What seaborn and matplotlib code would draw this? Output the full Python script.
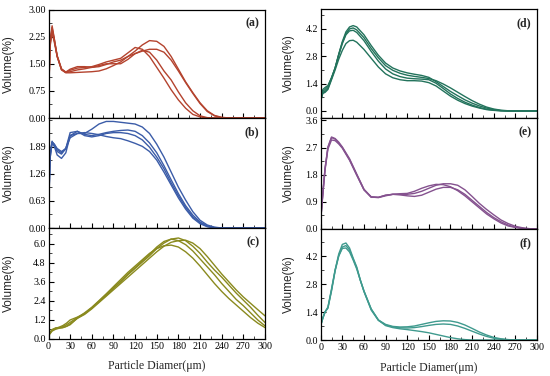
import numpy as np
import pandas as pd
import matplotlib
matplotlib.use("Agg")
import matplotlib.pyplot as plt
import seaborn as sns
from matplotlib.ticker import MultipleLocator, FixedLocator, FormatStrFormatter

# ---------------- data ----------------
xa = [0, 2, 5, 8, 12, 18, 24, 30, 40, 50, 60, 70, 80, 90, 100, 110, 120, 130, 140, 150,
      160, 170, 180, 190, 200, 210, 220, 230, 240, 250, 260, 270, 280, 290, 300]
a1 = [0.3, 2.1, 2.55, 2.2, 1.7, 1.33, 1.25, 1.25, 1.26, 1.27, 1.28, 1.3, 1.36, 1.45, 1.55, 1.7, 1.85, 2.02, 2.14, 2.12,
      1.98, 1.7, 1.35, 1.0, 0.7, 0.42, 0.2, 0.07, 0.02, 0.0, 0.0, 0.0, 0.0, 0.0, 0.0]
a2 = [0.3, 2.0, 2.45, 2.15, 1.72, 1.36, 1.27, 1.35, 1.42, 1.42, 1.4, 1.42, 1.48, 1.55, 1.6, 1.7, 1.78, 1.85, 1.9, 1.9,
      1.82, 1.6, 1.3, 0.98, 0.68, 0.4, 0.18, 0.06, 0.01, 0.0, 0.0, 0.0, 0.0, 0.0, 0.0]
a3 = [0.3, 2.05, 2.5, 2.18, 1.72, 1.35, 1.26, 1.32, 1.38, 1.4, 1.42, 1.48, 1.55, 1.6, 1.65, 1.8, 1.95, 1.9, 1.7, 1.4,
      1.1, 0.78, 0.5, 0.27, 0.1, 0.03, 0.0, 0.0, 0.0, 0.0, 0.0, 0.0, 0.0, 0.0, 0.0]
a4 = [0.3, 1.95, 2.35, 2.1, 1.7, 1.34, 1.26, 1.28, 1.33, 1.36, 1.4, 1.45, 1.5, 1.5, 1.5, 1.62, 1.78, 1.87, 1.82, 1.6,
      1.3, 1.05, 0.72, 0.42, 0.2, 0.06, 0.01, 0.0, 0.0, 0.0, 0.0, 0.0, 0.0, 0.0, 0.0]

xb = [0, 2, 5, 8, 12, 18, 24, 30, 40, 50, 60, 70, 80, 90, 100, 110, 120, 130, 140, 150,
      160, 170, 180, 190, 200, 210, 220, 230, 240, 250, 260, 270, 280, 290, 300]
b1 = [0.2, 1.6, 2.0, 1.95, 1.85, 1.78, 1.85, 2.15, 2.2, 2.2, 2.3, 2.42, 2.48, 2.48, 2.46, 2.44, 2.42, 2.35, 2.2, 1.95,
      1.65, 1.3, 0.95, 0.65, 0.38, 0.18, 0.07, 0.02, 0.0, 0.0, 0.0, 0.0, 0.0, 0.0, 0.0]
b2 = [0.2, 1.7, 2.02, 1.9, 1.7, 1.62, 1.75, 2.15, 2.25, 2.18, 2.15, 2.18, 2.22, 2.25, 2.27, 2.28, 2.25, 2.15, 1.98, 1.75,
      1.45, 1.12, 0.8, 0.52, 0.3, 0.14, 0.05, 0.01, 0.0, 0.0, 0.0, 0.0, 0.0, 0.0, 0.0]
b3 = [0.2, 1.6, 1.98, 1.92, 1.78, 1.72, 1.85, 2.22, 2.25, 2.15, 2.12, 2.15, 2.2, 2.22, 2.22, 2.2, 2.15, 2.05, 1.88, 1.65,
      1.38, 1.05, 0.75, 0.48, 0.26, 0.12, 0.04, 0.0, 0.0, 0.0, 0.0, 0.0, 0.0, 0.0, 0.0]
b4 = [0.2, 1.7, 2.0, 1.95, 1.82, 1.75, 1.85, 2.1, 2.2, 2.22, 2.2, 2.17, 2.13, 2.1, 2.08, 2.03, 1.97, 1.9, 1.78, 1.58,
      1.3, 1.0, 0.7, 0.44, 0.23, 0.1, 0.03, 0.0, 0.0, 0.0, 0.0, 0.0, 0.0, 0.0, 0.0]

xc = [0, 5, 10, 15, 20, 25, 30, 40, 50, 60, 70, 80, 90, 100, 110, 120, 130, 140, 150,
      160, 170, 180, 190, 200, 210, 220, 230, 240, 250, 260, 270, 280, 290, 300]
c1 = [0.25, 0.55, 0.65, 0.7, 0.72, 0.8, 0.95, 1.3, 1.55, 1.9, 2.3, 2.7, 3.1, 3.5, 3.9, 4.3, 4.7, 5.1, 5.5,
      5.85, 6.1, 6.2, 6.23, 6.05, 5.7, 5.2, 4.65, 4.1, 3.6, 3.1, 2.65, 2.25, 1.85, 1.46]
c2 = [0.3, 0.55, 0.68, 0.75, 0.85, 1.0, 1.2, 1.38, 1.6, 1.95, 2.35, 2.75, 3.2, 3.6, 4.05, 4.45, 4.85, 5.25, 5.7,
      6.05, 6.3, 6.37, 6.2, 5.85, 5.4, 4.85, 4.35, 3.9, 3.4, 2.9, 2.45, 2.0, 1.5, 1.04]
c3 = [0.2, 0.5, 0.62, 0.68, 0.72, 0.8, 0.9, 1.32, 1.6, 1.97, 2.38, 2.8, 3.22, 3.65, 4.1, 4.5, 4.92, 5.35, 5.8,
      6.15, 6.3, 6.2, 5.95, 5.55, 5.05, 4.55, 4.05, 3.5, 3.0, 2.5, 2.1, 1.65, 1.2, 0.83]
c4 = [0.3, 0.6, 0.7, 0.72, 0.78, 0.9, 1.05, 1.35, 1.65, 2.0, 2.42, 2.85, 3.3, 3.75, 4.2, 4.6, 5.0, 5.4, 5.7,
      5.88, 5.92, 5.8, 5.5, 5.1, 4.6, 4.05, 3.5, 3.0, 2.55, 2.15, 1.75, 1.35, 1.0, 0.72]

xd = [0, 3, 6, 10, 15, 20, 25, 30, 35, 40, 45, 50, 60, 70, 80, 90, 100, 110, 120, 130, 140, 150,
      160, 170, 180, 190, 200, 210, 220, 230, 240, 250, 260, 270, 280, 290, 300]
d1 = [0.6, 1.1, 1.2, 1.3, 1.7, 2.2, 2.9, 3.55, 4.05, 4.3, 4.37, 4.3, 3.9, 3.35, 2.85, 2.45, 2.2, 2.05, 1.95, 1.88, 1.82, 1.72,
      1.5, 1.25, 1.0, 0.78, 0.57, 0.4, 0.26, 0.15, 0.07, 0.02, 0.0, 0.0, 0.0, 0.0, 0.0]
d2 = [0.5, 1.0, 1.1, 1.25, 1.7, 2.2, 2.9, 3.5, 3.95, 4.2, 4.25, 4.15, 3.75, 3.2, 2.72, 2.32, 2.08, 1.93, 1.83, 1.77, 1.72, 1.66,
      1.55, 1.38, 1.18, 0.96, 0.74, 0.53, 0.35, 0.2, 0.1, 0.04, 0.01, 0.0, 0.0, 0.0, 0.0]
d3 = [0.5, 0.95, 1.0, 1.15, 1.65, 2.2, 2.85, 3.45, 3.9, 4.1, 4.13, 4.02, 3.6, 3.05, 2.55, 2.15, 1.9, 1.76, 1.68, 1.65, 1.63, 1.6,
      1.42, 1.15, 0.87, 0.64, 0.45, 0.3, 0.18, 0.09, 0.04, 0.01, 0.0, 0.0, 0.0, 0.0, 0.0]
d4 = [0.6, 0.9, 0.95, 1.1, 1.6, 2.1, 2.65, 3.1, 3.45, 3.6, 3.62, 3.52, 3.15, 2.7, 2.25, 1.9, 1.7, 1.6, 1.55, 1.55, 1.53, 1.45,
      1.28, 1.02, 0.76, 0.55, 0.38, 0.25, 0.15, 0.07, 0.03, 0.01, 0.0, 0.0, 0.0, 0.0, 0.0]

xe = [0, 3, 6, 10, 15, 20, 25, 30, 40, 50, 60, 70, 80, 90, 100, 110, 120, 130, 140, 150,
      160, 170, 180, 190, 200, 210, 220, 230, 240, 250, 260, 270, 280, 290, 300]
e1 = [0.3, 1.2, 2.0, 2.7, 3.03, 2.98, 2.85, 2.7, 2.3, 1.8, 1.3, 1.07, 1.05, 1.12, 1.15, 1.15, 1.15, 1.18, 1.25, 1.35,
      1.45, 1.5, 1.5, 1.45, 1.3, 1.08, 0.85, 0.65, 0.47, 0.3, 0.18, 0.09, 0.04, 0.01, 0.0]
e2 = [0.3, 1.2, 2.0, 2.72, 3.05, 3.0, 2.88, 2.72, 2.33, 1.82, 1.32, 1.06, 1.04, 1.1, 1.15, 1.17, 1.18, 1.25, 1.35, 1.43,
      1.48, 1.47, 1.4, 1.27, 1.1, 0.9, 0.7, 0.5, 0.34, 0.2, 0.1, 0.05, 0.02, 0.0, 0.0]
e3 = [0.3, 1.15, 1.95, 2.65, 2.95, 2.93, 2.82, 2.68, 2.28, 1.78, 1.3, 1.05, 1.05, 1.12, 1.15, 1.13, 1.1, 1.08, 1.12, 1.22,
      1.32, 1.38, 1.38, 1.3, 1.15, 0.95, 0.75, 0.55, 0.38, 0.24, 0.13, 0.06, 0.02, 0.0, 0.0]

xf = [0, 3, 6, 10, 15, 20, 25, 30, 35, 40, 45, 50, 55, 60, 70, 80, 90, 100, 110, 120, 130, 140, 150,
      160, 170, 180, 190, 200, 210, 220, 230, 240, 250, 260, 270, 280, 290, 300]
f1 = [0.75, 1.1, 1.4, 1.6, 2.5, 3.5, 4.3, 4.78, 4.85, 4.6, 4.1, 3.65, 3.0, 2.45, 1.55, 1.0, 0.78, 0.68, 0.65, 0.66, 0.7, 0.78, 0.86,
      0.93, 0.96, 0.95, 0.88, 0.75, 0.58, 0.4, 0.25, 0.13, 0.06, 0.02, 0.0, 0.0, 0.0, 0.0]
f2 = [0.7, 1.1, 1.4, 1.6, 2.45, 3.45, 4.2, 4.65, 4.72, 4.5, 4.05, 3.6, 2.98, 2.42, 1.5, 0.98, 0.75, 0.65, 0.61, 0.6, 0.62, 0.67, 0.73,
      0.78, 0.8, 0.78, 0.7, 0.58, 0.44, 0.3, 0.18, 0.09, 0.04, 0.01, 0.0, 0.0, 0.0, 0.0]
f3 = [0.75, 1.1, 1.4, 1.65, 2.55, 3.5, 4.2, 4.58, 4.6, 4.4, 4.0, 3.55, 2.98, 2.45, 1.55, 1.0, 0.72, 0.62, 0.56, 0.52, 0.47, 0.42, 0.36,
      0.28, 0.2, 0.12, 0.06, 0.02, 0.0, 0.0, 0.0, 0.0, 0.0, 0.0, 0.0, 0.0, 0.0, 0.0]

panels = [
    ("(a)", xa, [a1, a2, a3, a4], "#b4432e"),
    ("(b)", xb, [b1, b2, b3, b4], "#3b5ca8"),
    ("(c)", xc, [c1, c2, c3, c4], "#8a8a1e"),
    ("(d)", xd, [d1, d2, d3, d4], "#23735c"),
    ("(e)", xe, [e1, e2, e3], "#85528f"),
    ("(f)", xf, [f1, f2, f3], "#3f9a8e"),
]
ylims = [(0, 3.0), (0, 2.56), (0, 7.0), (-0.36, 5.22), (0, 3.68), (0, 5.55)]
yticks = [[0, 0.75, 1.5, 2.25, 3.0], [0, 0.63, 1.26, 1.89], [0, 1.2, 2.4, 3.6, 4.8, 6.0],
          [0, 1.4, 2.8, 4.2], [0, 0.9, 1.8, 2.7, 3.6], [0, 1.4, 2.8, 4.2]]
yfmt = ["%.2f", "%.2f", "%.1f", "%.1f", "%.1f", "%.1f"]
xticks = list(range(0, 301, 30))

# ---------------- plot ----------------
sns.set_theme(style="ticks")
plt.rcParams["font.family"] = ["Liberation Serif", "DejaVu Serif"]

W, H = 550, 376
fig = plt.figure(figsize=(5.5, 3.76), dpi=100)

col_left = [48.5, 320.7]
col_w = [216.5, 216.3]
rows = [[(9.5, 118), (118, 228), (228, 339)], [(9, 118), (118, 229), (229, 340)]]

axes = []
for c in range(2):
    for r in range(3):
        top, bot = rows[c][r]
        ax = fig.add_axes([col_left[c] / W, 1 - bot / H, col_w[c] / W, (bot - top) / H])
        axes.append(ax)

for i, (ax, (lab, xs, series, col)) in enumerate(zip(axes, panels)):
    for s in series:
        df = pd.DataFrame({"x": xs, "y": s})
        sns.lineplot(data=df, x="x", y="y", ax=ax, color=col, lw=1.0, estimator=None, sort=False)
    ax.set_xlim(0, 300)
    ax.set_ylim(*ylims[i])
    ax.xaxis.set_major_locator(FixedLocator(xticks))
    ax.xaxis.set_minor_locator(MultipleLocator(15))
    ax.yaxis.set_major_locator(FixedLocator(yticks[i]))
    step = yticks[i][1] - yticks[i][0]
    ax.yaxis.set_minor_locator(MultipleLocator(step / 2))
    ax.yaxis.set_major_formatter(FormatStrFormatter(yfmt[i]))
    ax.tick_params(which="major", direction="in", length=3.5, width=0.8, labelsize=7.2,
                   colors="black", pad=2)
    ax.tick_params(which="minor", direction="in", length=2, width=0.6)
    ax.tick_params(axis="x", which="both", top=False)
    ax.tick_params(axis="y", which="both", right=False)
    for sp in ax.spines.values():
        sp.set_visible(True)
        sp.set_linewidth(0.9)
        sp.set_color("black")
    ax.set_ylabel("Volume(%)", fontsize=8.5, family=["Liberation Sans", "DejaVu Sans"])
    if i < 3:
        ax.yaxis.set_label_coords(-0.155, 0.5)
    else:
        ax.yaxis.set_label_coords(-0.119, 0.5)
    if i in (2, 5):
        ax.set_xlabel("Particle Diamer(μm)", fontsize=8.5, labelpad=7)
    else:
        ax.set_xlabel("")
        ax.tick_params(axis="x", labelbottom=False)
    ax.text(0.975, 0.87, lab, transform=ax.transAxes, ha="right", va="center",
            fontsize=8.5, fontweight="bold")

fig.savefig("out.png", dpi=100, facecolor="white")
